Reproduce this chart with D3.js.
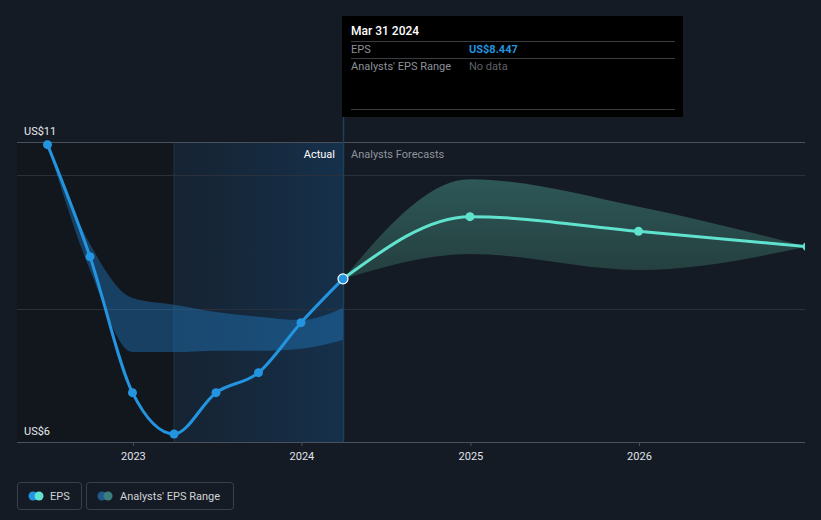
<!DOCTYPE html>
<html><head><meta charset="utf-8">
<script src="https://cdn.jsdelivr.net/npm/d3@7"></script>
<style>
html,body{margin:0;padding:0;background:#151b24;}
svg{display:block;font-family:Roboto,"Open Sans",sans-serif;}
</style></head>
<body>
<svg id="c" width="821" height="520"></svg>
<script>
// ---- data ----
const actualDates = ["2022-06-30","2022-09-30","2022-12-31","2023-03-31","2023-06-30","2023-09-30","2023-12-31","2024-03-31"];
const actualEps   = [10.46, 8.78, 6.74, 6.12, 6.74, 7.04, 7.79, 8.447];
const pastRangeHigh = [10.46, 8.97, 8.16, 8.06, 7.95, 7.88, 7.83, 8.01];
const pastRangeLow  = [10.46, 8.58, 7.35, 7.35, 7.37, 7.37, 7.40, 7.53];
const forecastDates = ["2024-03-31","2024-12-31","2025-12-31","2026-12-31"];
const forecastEps   = [8.447, 9.38, 9.16, 8.93];
const forecastHigh  = [8.447, 9.94, 9.53, 8.93];
const forecastLow   = [8.447, 8.82, 8.58, 8.93];
const yearTicks = ["2023","2024","2025","2026"];
const yTickLabels = ["US$6","US$11"];
const gridValues = [6, 8, 10];

const parse = d3.timeParse("%Y-%m-%d");
const svg = d3.select("#c");
const x = d3.scaleTime().domain([parse("2022-06-30"), parse("2026-12-31")]).range([47.5, 807]);
const y = d3.scaleLinear().domain([6, 10.5]).range([442, 142]);
const L = 17, R = 805;

const actual = actualDates.map((d,i)=>({d:parse(d), v:actualEps[i], hi:pastRangeHigh[i], lo:pastRangeLow[i]}));
const fc = forecastDates.map((d,i)=>({d:parse(d), v:forecastEps[i], hi:forecastHigh[i], lo:forecastLow[i]}));
const xNow = x(parse("2024-03-31"));
const xPastYear = x(parse("2023-03-31"));

const defs = svg.append("defs");
defs.append("clipPath").attr("id","clip").append("rect").attr("x",L).attr("y",0).attr("width",R-L).attr("height",520);
const g1 = defs.append("linearGradient").attr("id","pastg").attr("x1",0).attr("x2",1).attr("y1",0).attr("y2",0);
g1.append("stop").attr("offset","0%").attr("stop-color","#16293c").attr("stop-opacity",0.6);
g1.append("stop").attr("offset","100%").attr("stop-color","#163350").attr("stop-opacity",0.9);
const g2 = defs.append("linearGradient").attr("id","fcg").attr("x1",0).attr("x2",0).attr("y1",0).attr("y2",1);
g2.append("stop").attr("offset","0%").attr("stop-color","#2f5a5a");
g2.append("stop").attr("offset","100%").attr("stop-color","#25403f");

// dark region left of past-year
svg.append("rect").attr("x",L).attr("y",142).attr("width",xPastYear-L).attr("height",300).attr("fill","#12161d");
// past year highlight
svg.append("rect").attr("x",xPastYear).attr("y",142).attr("width",xNow-xPastYear).attr("height",300).attr("fill","url(#pastg)");
svg.append("line").attr("x1",xPastYear).attr("x2",xPastYear).attr("y1",142).attr("y2",442).attr("stroke","#1f3448").attr("stroke-width",1);

// gridlines
svg.selectAll("line.grid").data(gridValues.slice(1)).enter().append("line")
  .attr("x1",L).attr("x2",R).attr("y1",d=>Math.round(y(d))+0.5).attr("y2",d=>Math.round(y(d))+0.5)
  .attr("stroke","#2a313c").attr("stroke-width",1);
svg.append("line").attr("x1",L).attr("x2",R).attr("y1",142.5).attr("y2",142.5).attr("stroke","#4a515c");

// now line
svg.append("line").attr("x1",xNow+0.5).attr("x2",xNow+0.5).attr("y1",16).attr("y2",442).attr("stroke","#1c3f5e").attr("stroke-width",1.5);

const plot = svg.append("g").attr("clip-path","url(#clip)");

// areas
const area = d3.area().x(d=>x(d.d)).y0(d=>y(d.lo)).y1(d=>y(d.hi)).curve(d3.curveMonotoneX);
plot.append("path").datum(actual).attr("d",area).attr("fill","#2385d4").attr("fill-opacity",0.38);
plot.append("path").datum(fc).attr("d",area).attr("fill","url(#fcg)").attr("fill-opacity",0.95);

// x axis
const axis = d3.axisBottom(x).tickValues(yearTicks.map(t=>parse(t+"-01-01"))).tickFormat(d3.timeFormat("%Y")).tickSize(4).tickPadding(6);
const ax = svg.append("g").attr("transform","translate(0,442)").call(axis);
ax.select(".domain").remove();
ax.selectAll("line").attr("stroke","#4a515c");
ax.selectAll("text").attr("fill","#e0e3e8").attr("font-size",11).attr("font-family","Roboto, sans-serif");
svg.append("line").attr("x1",L).attr("x2",R).attr("y1",442.5).attr("y2",442.5).attr("stroke","#4a515c");

// y labels
svg.append("text").attr("x",24).attr("y",135).text(yTickLabels[1]).attr("fill","#e8eaed").attr("font-size",11);
svg.append("text").attr("x",24).attr("y",435).text(yTickLabels[0]).attr("fill","#e8eaed").attr("font-size",11);

// lines
const line = d3.line().x(d=>x(d.d)).y(d=>y(d.v)).curve(d3.curveMonotoneX);
plot.append("path").datum(fc).attr("d",line).attr("fill","none").attr("stroke","#5fe3cf").attr("stroke-width",3);
plot.append("path").datum(actual).attr("d",line).attr("fill","none").attr("stroke","#2394df").attr("stroke-width",3);
plot.selectAll("circle.fc").data(fc.slice(1)).enter().append("circle")
  .attr("cx",d=>x(d.d)).attr("cy",d=>y(d.v)).attr("r",4.5).attr("fill","#5fe3cf");
plot.selectAll("circle.act").data(actual.slice(0,-1)).enter().append("circle")
  .attr("cx",d=>x(d.d)).attr("cy",d=>y(d.v)).attr("r",4.5).attr("fill","#2394df");
const last = actual[actual.length-1];
plot.append("circle").attr("cx",x(last.d)).attr("cy",y(last.v)).attr("r",5).attr("fill","#2394df").attr("stroke","#ffffff").attr("stroke-width",1.2);

// Actual / Analysts Forecasts labels
svg.append("text").attr("x",xNow-8).attr("y",158).attr("text-anchor","end").text("Actual").attr("fill","#ffffff").attr("font-size",11);
svg.append("text").attr("x",xNow+8).attr("y",158).text("Analysts Forecasts").attr("fill","#8d939b").attr("font-size",11);

// tooltip
const tt = svg.append("g");
tt.append("rect").attr("x",342).attr("y",16).attr("width",341).attr("height",101).attr("fill","#000000");
tt.append("text").attr("x",351).attr("y",35).text("Mar 31 2024").attr("fill","#ffffff").attr("font-size",12).attr("font-weight",500);
[41,58,109].forEach(yy=>tt.append("line").attr("x1",351).attr("x2",675).attr("y1",yy+0.5).attr("y2",yy+0.5).attr("stroke","#3a3d42"));
tt.append("text").attr("x",351).attr("y",53).text("EPS").attr("fill","#8d9198").attr("font-size",11);
tt.append("text").attr("x",469).attr("y",53).text("US$" + last.v.toFixed(3)).attr("fill","#2394df").attr("font-size",11).attr("font-weight",700);
tt.append("text").attr("x",351).attr("y",70).text("Analysts' EPS Range").attr("fill","#8d9198").attr("font-size",11);
tt.append("text").attr("x",469).attr("y",70).text("No data").attr("fill","#5e6269").attr("font-size",11);

// legend
const lg = svg.append("g");
lg.append("rect").attr("x",17.5).attr("y",482.5).attr("width",64).attr("height",27).attr("rx",3).attr("fill","none").attr("stroke","#3a404b");
lg.append("circle").attr("cx",33).attr("cy",496).attr("r",4.5).attr("fill","#2394df");
lg.append("circle").attr("cx",39).attr("cy",496).attr("r",4.5).attr("fill","#5fe3cf");
lg.append("text").attr("x",50).attr("y",500).text("EPS").attr("fill","#d0d3d8").attr("font-size",11);
lg.append("rect").attr("x",86.5).attr("y",482.5).attr("width",147).attr("height",27).attr("rx",3).attr("fill","none").attr("stroke","#3a404b");
lg.append("circle").attr("cx",102).attr("cy",496).attr("r",4.5).attr("fill","#1f5b8f");
lg.append("circle").attr("cx",108).attr("cy",496).attr("r",4.5).attr("fill","#3b7f7c");
lg.append("text").attr("x",120).attr("y",500).text("Analysts' EPS Range").attr("fill","#d0d3d8").attr("font-size",11);
</script>
</body></html>
